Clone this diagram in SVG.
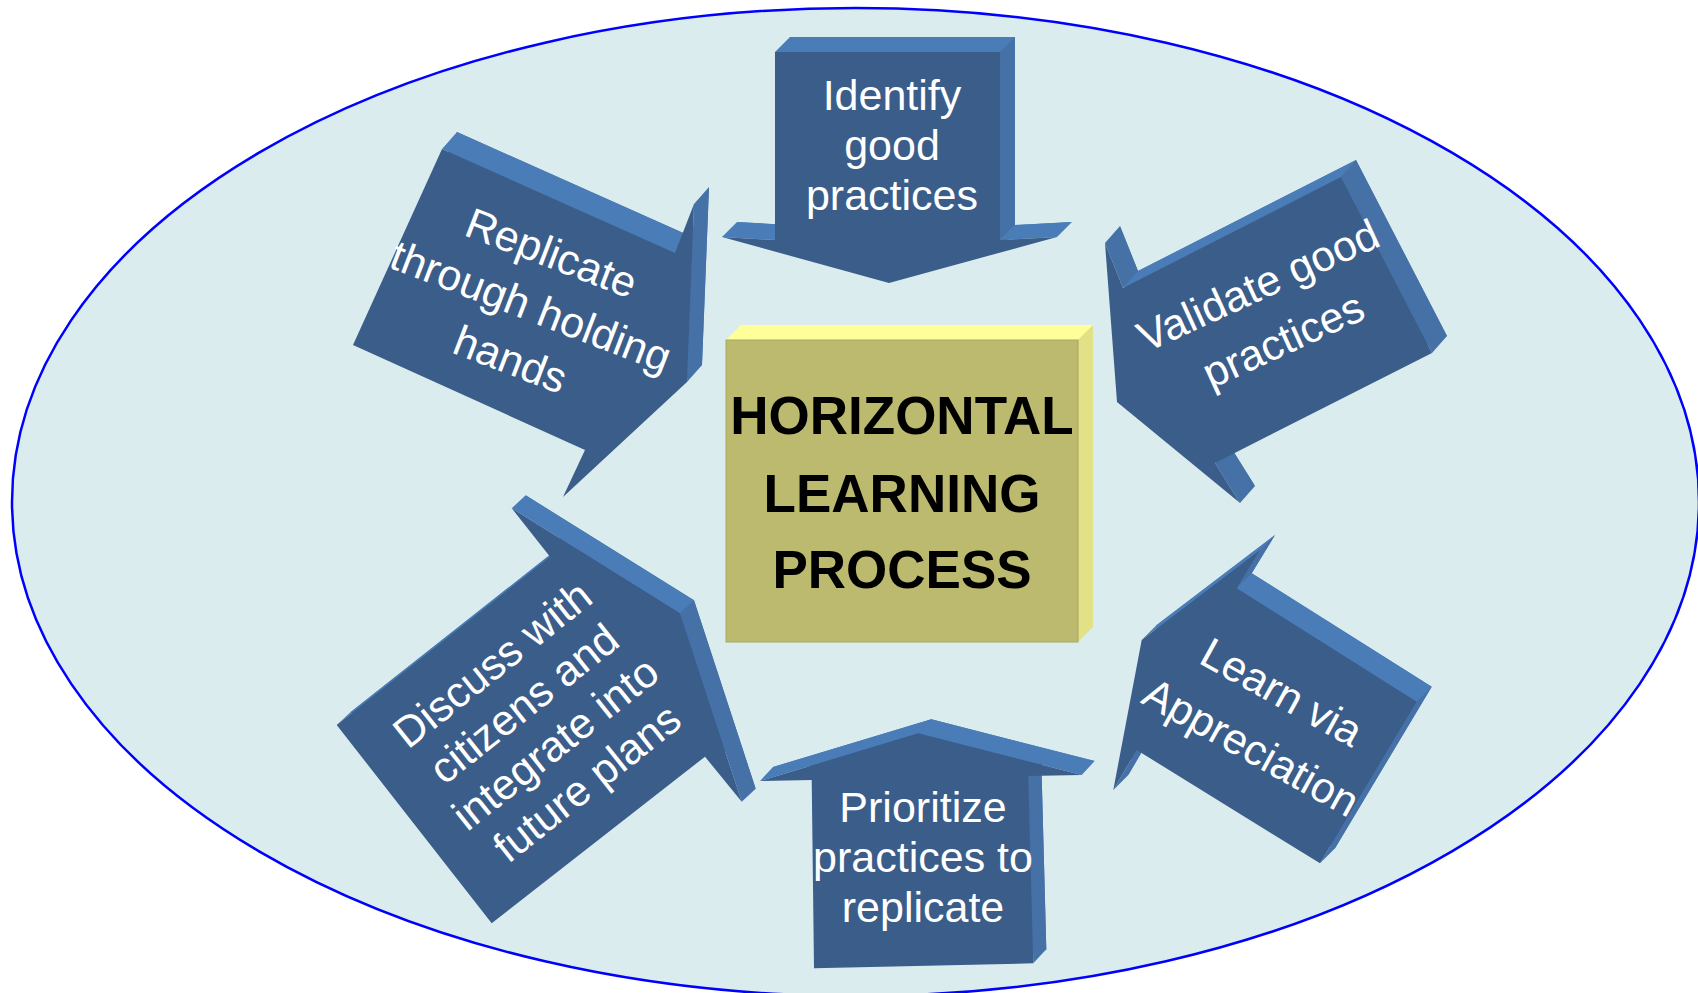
<svg xmlns="http://www.w3.org/2000/svg" width="1698" height="993" viewBox="0 0 1698 993">
<style>
.front{fill:#3B5D8A}
.top{fill:#4A7CB7}
.side{fill:#4571A7}
.lbl{font-family:"Liberation Sans",Arial,sans-serif;font-size:43px;fill:#FFFFFF;text-anchor:middle}
.ctr{font-family:"Liberation Sans",Arial,sans-serif;font-size:53px;font-weight:bold;fill:#000000;text-anchor:middle}
</style>
<rect x="0" y="0" width="1698" height="993" fill="#FFFFFF"/>
<g id="background">
<ellipse cx="855.5" cy="502" rx="843.5" ry="494" fill="#DAECEE" stroke="#0000FF" stroke-width="2.5"/>
</g>
<g id="connectors"></g>
<g id="identify">
<polygon class="top" points="790,37 1015,37 1015,225 1072,222 904,268 737,222 790,225"/>
<polygon class="top" points="775,52 1000,52 1015,37 790,37"/>
<polygon class="side" points="1000,52 1000,240 1015,225 1015,37"/>
<polygon class="top" points="1000,240 1057,237 1072,222 1015,225"/>
<polygon class="top" points="722,237 775,240 790,225 737,222"/>
<polygon class="front" points="775,52 1000,52 1000,240 1057,237 889,283 722,237 775,240"/>
<text class="lbl"><tspan x="892" y="110">Identify</tspan><tspan x="892" y="160">good</tspan><tspan x="892" y="210">practices</tspan></text>
</g>
<g id="validate">
<polygon class="top" points="1138,271 1356,160 1447,336 1230,446 1255,486 1132,385 1120,226"/>
<polygon class="top" points="1123,288 1341,177 1356,160 1138,271"/>
<polygon class="side" points="1341,177 1432,353 1447,336 1356,160"/>
<polygon class="side" points="1215,463 1240,503 1255,486 1230,446"/>
<polygon class="side" points="1105,243 1123,288 1138,271 1120,226"/>
<polygon class="front" points="1123,288 1341,177 1432,353 1215,463 1240,503 1117,402 1105,243"/>
<text class="lbl" transform="translate(1270.5,312.5) rotate(-24.5)"><tspan x="0" y="-15">Validate good</tspan><tspan x="0" y="45">practices</tspan></text>
</g>
<g id="learn">
<polygon class="top" points="1251.7,573.3 1431.7,686.7 1335,848.3 1151.7,735 1128.3,775 1156.7,625 1275,535"/>
<polygon class="top" points="1236.7,588.3 1416.7,701.7 1431.7,686.7 1251.7,573.3"/>
<polygon class="side" points="1416.7,701.7 1320,863.3 1335,848.3 1431.7,686.7"/>
<polygon class="side" points="1136.7,750 1113.3,790 1128.3,775 1151.7,735"/>
<polygon class="top" points="1141.7,640 1260,550 1275,535 1156.7,625"/>
<polygon class="side" points="1260,550 1236.7,588.3 1251.7,573.3 1275,535"/>
<polygon class="front" points="1236.7,588.3 1416.7,701.7 1320,863.3 1136.7,750 1113.3,790 1141.7,640 1260,550"/>
<text class="lbl" transform="translate(1266.5,719.5) rotate(29)"><tspan x="0" y="-16.5">Learn via</tspan><tspan x="0" y="46.5">Appreciation</tspan></text>
</g>
<g id="prioritize">
<polygon class="top" points="931.3,719.3 1094.7,761 1041.3,762 1046.3,949.3 827,954.3 824.7,766 773,767"/>
<polygon class="top" points="918.3,733.3 1081.7,775 1094.7,761 931.3,719.3"/>
<polygon class="side" points="1028.3,776 1033.3,963.3 1046.3,949.3 1041.3,762"/>
<polygon class="top" points="760,781 918.3,733.3 931.3,719.3 773,767"/>
<polygon class="front" points="918.3,733.3 1081.7,775 1028.3,776 1033.3,963.3 814,968.3 811.7,780 760,781"/>
<text class="lbl"><tspan x="923" y="821.7">Prioritize</tspan><tspan x="923" y="871.7">practices to</tspan><tspan x="923" y="921.7">replicate</tspan></text>
</g>
<g id="discuss">
<polygon class="top" points="350.7,712 564,543.7 525.7,495.3 694,600.3 755.7,788.7 719,743.7 505.7,910.3"/>
<polygon class="top" points="336.7,725 550,556.7 564,543.7 350.7,712"/>
<polygon class="top" points="511.7,508.3 680,613.3 694,600.3 525.7,495.3"/>
<polygon class="side" points="680,613.3 741.7,801.7 755.7,788.7 694,600.3"/>
<polygon class="front" points="336.7,725 550,556.7 511.7,508.3 680,613.3 741.7,801.7 705,756.7 491.7,923.3"/>
<text class="lbl" transform="translate(539.5,723.3) rotate(-38.5)"><tspan x="0" y="-60.9">Discuss with</tspan><tspan x="0" y="-10.3">citizens and</tspan><tspan x="0" y="40.3">integrate into</tspan><tspan x="0" y="90.9">future plans</tspan></text>
</g>
<g id="replicate">
<polygon class="top" points="457,132 690,236 709,187 702,365 578,480 600,433 368,328"/>
<polygon class="top" points="442,149 675,253 690,236 457,132"/>
<polygon class="side" points="694,204 687,382 702,365 709,187"/>
<polygon class="front" points="442,149 675,253 694,204 687,382 563,497 585,450 353,345"/>
<text class="lbl" transform="translate(531,306) rotate(21)"><tspan x="0" y="-42">Replicate</tspan><tspan x="0" y="15">through holding</tspan><tspan x="0" y="72">hands</tspan></text>
</g>
<g id="center">
<polygon points="726,340 741,325 1093,325 1078,340" fill="#FFFF99"/>
<polygon points="1078,340 1093,325 1093,627 1078,642" fill="#E2E187"/>
<rect x="726" y="340" width="352" height="302" fill="#BBBA6F" stroke="#A9A862" stroke-width="1"/>
<text class="ctr"><tspan x="902" y="434">HORIZONTAL</tspan><tspan x="902" y="511.5">LEARNING</tspan><tspan x="902" y="587.5">PROCESS</tspan></text>
</g>
</svg>
